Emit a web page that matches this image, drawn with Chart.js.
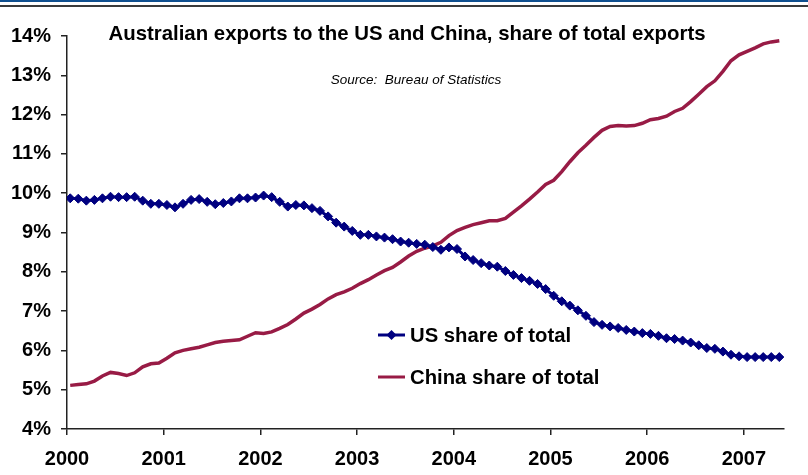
<!DOCTYPE html>
<html>
<head>
<meta charset="utf-8">
<title>Australian exports to the US and China</title>
<script src="https://cdn.jsdelivr.net/npm/chart.js@4.4.0/dist/chart.umd.min.js"></script>
<style>
  html, body { margin: 0; padding: 0; background: #fff; }
  #wrap { width: 808px; height: 475px; }
</style>
</head>
<body>
<div id="wrap"><canvas id="exportsChart" width="808" height="475"></canvas></div>
<script>
// monthly share of total exports, Jan 2000 - May 2007 (%)
const startYear = 2000;
const usShare = [
  9.87, 9.86, 9.81, 9.83, 9.87, 9.91, 9.90, 9.90, 9.91, 9.81, 9.73, 9.73,
  9.70, 9.64, 9.73, 9.83, 9.85, 9.78, 9.72, 9.75, 9.79, 9.87, 9.87, 9.89,
  9.94, 9.90, 9.78, 9.66, 9.70, 9.69, 9.62, 9.55, 9.41, 9.25, 9.15, 9.04,
  8.94, 8.94, 8.90, 8.87, 8.83, 8.77, 8.74, 8.71, 8.69, 8.63, 8.56, 8.62,
  8.58, 8.39, 8.30, 8.22, 8.16, 8.13, 8.02, 7.92, 7.84, 7.77, 7.69, 7.56,
  7.39, 7.25, 7.14, 7.02, 6.88, 6.72, 6.65, 6.61, 6.57, 6.52, 6.48, 6.44,
  6.42, 6.37, 6.31, 6.29, 6.25, 6.20, 6.13, 6.06, 6.04, 5.97, 5.89, 5.85,
  5.83, 5.83, 5.83, 5.83, 5.83
];
const chinaShare = [
  5.11, 5.13, 5.15, 5.22, 5.35, 5.44, 5.41, 5.36, 5.43, 5.58, 5.66, 5.68,
  5.80, 5.94, 6.00, 6.04, 6.08, 6.14, 6.20, 6.23, 6.25, 6.27, 6.36, 6.45,
  6.43, 6.47, 6.56, 6.66, 6.80, 6.95, 7.05, 7.17, 7.31, 7.42, 7.49, 7.58,
  7.70, 7.80, 7.92, 8.03, 8.11, 8.25, 8.40, 8.52, 8.60, 8.66, 8.75, 8.92,
  9.05, 9.13, 9.20, 9.25, 9.30, 9.30, 9.36, 9.52, 9.68, 9.85, 10.03, 10.22,
  10.33, 10.55, 10.80, 11.03, 11.22, 11.42, 11.60, 11.70, 11.72, 11.71, 11.72, 11.78,
  11.87, 11.90, 11.96, 12.08, 12.16, 12.33, 12.52, 12.71, 12.86, 13.10, 13.37, 13.52,
  13.61, 13.70, 13.80, 13.85, 13.88
];
const seriesNames = ['US share of total', 'China share of total'];
const yTicks = [4, 5, 6, 7, 8, 9, 10, 11, 12, 13, 14];

const usColor = '#000080';
const chinaColor = '#981b45';
const fontFamily = "'Liberation Sans', Arial, sans-serif";

// place each month a little into its month on a year axis
function toPoints(values) {
  return values.map((v, i) => ({ x: startYear + (i + 0.4) / 12, y: v }));
}

function diamond(ctx, x, y, r) {
  ctx.beginPath();
  ctx.moveTo(x, y - r);
  ctx.lineTo(x + r, y);
  ctx.lineTo(x, y + r);
  ctx.lineTo(x - r, y);
  ctx.closePath();
  ctx.fill();
}

const decorations = {
  id: 'decorations',
  beforeDraw(chart) {
    const ctx = chart.ctx;
    ctx.save();
    ctx.fillStyle = '#fff';
    ctx.fillRect(0, 0, chart.width, chart.height);
    ctx.fillStyle = '#0f4f8f';
    ctx.fillRect(0, 0, chart.width, 2);
    ctx.fillStyle = '#3a3a3a';
    ctx.fillRect(0, 5, chart.width, 2);
    ctx.restore();
  },
  afterDraw(chart) {
    const ctx = chart.ctx;
    ctx.save();
    ctx.fillStyle = '#000';
    ctx.textAlign = 'center';
    ctx.textBaseline = 'middle';
    ctx.font = 'bold 20.4px ' + fontFamily;
    ctx.fillText('Australian exports to the US and China, share of total exports', 407, 34);
    ctx.font = 'italic 13.5px ' + fontFamily;
    ctx.fillText('Source:  Bureau of Statistics', 416, 80);

    // legend in the lower middle of the plot
    const rows = [
      { y: 335, color: usColor, marker: true },
      { y: 377, color: chinaColor, marker: false }
    ];
    ctx.textAlign = 'left';
    ctx.font = 'bold 20.3px ' + fontFamily;
    rows.forEach((row, i) => {
      ctx.strokeStyle = row.color;
      ctx.lineWidth = 3;
      ctx.beginPath();
      ctx.moveTo(378, row.y);
      ctx.lineTo(405, row.y);
      ctx.stroke();
      if (row.marker) {
        ctx.fillStyle = row.color;
        diamond(ctx, 391.5, row.y, 5);
      }
      ctx.fillStyle = '#000';
      ctx.fillText(seriesNames[i], 410, row.y + 1);
    });
    ctx.restore();
  }
};

new Chart(document.getElementById('exportsChart'), {
  type: 'line',
  data: {
    datasets: [
      {
        label: seriesNames[0],
        data: toPoints(usShare),
        borderColor: usColor,
        backgroundColor: usColor,
        borderWidth: 3,
        pointStyle: 'rectRot',
        pointRadius: 4.5,
        pointBorderWidth: 1,
        pointHoverRadius: 4.5,
        tension: 0
      },
      {
        label: seriesNames[1],
        data: toPoints(chinaShare),
        borderColor: chinaColor,
        backgroundColor: chinaColor,
        borderWidth: 3.5,
        pointRadius: 0,
        pointHoverRadius: 0,
        tension: 0
      }
    ]
  },
  options: {
    responsive: false,
    animation: false,
    devicePixelRatio: 1,
    layout: { padding: { top: 36, right: 24, left: 0, bottom: 0 } },
    plugins: {
      legend: { display: false },
      title: { display: false },
      tooltip: { enabled: false }
    },
    scales: {
      x: {
        type: 'linear',
        min: 2000,
        max: 2007.415,
        afterFit: (s) => { s.height = 46; },
        grid: { drawOnChartArea: false, tickLength: 6, color: '#222', lineWidth: 1.5 },
        border: { color: '#222', width: 1.5 },
        ticks: {
          stepSize: 1,
          includeBounds: false,
          autoSkip: false,
          maxRotation: 0,
          padding: 12,
          color: '#000',
          font: { family: fontFamily, size: 20, weight: 'bold' },
          callback: (v) => String(v)
        }
      },
      y: {
        min: yTicks[0],
        max: yTicks[yTicks.length - 1],
        afterFit: (s) => { s.width = 67; },
        afterBuildTicks: (s) => { s.ticks = yTicks.map(v => ({ value: v })); },
        grid: { drawOnChartArea: false, tickLength: 6, color: '#222', lineWidth: 1.5 },
        border: { color: '#222', width: 1.5 },
        ticks: {
          padding: 10,
          color: '#000',
          font: { family: fontFamily, size: 20, weight: 'bold' },
          callback: (v) => v + '%'
        }
      }
    }
  },
  plugins: [decorations]
});
</script>
</body>
</html>
